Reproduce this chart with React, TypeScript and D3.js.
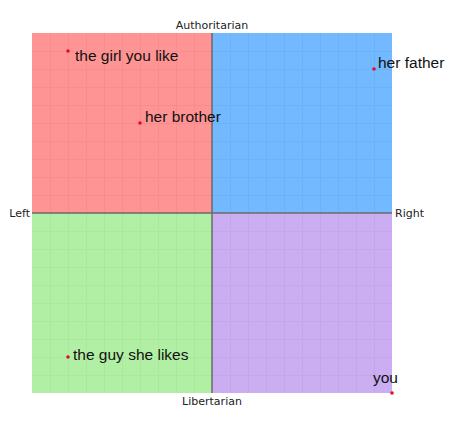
import { useEffect, useRef } from 'react';
import * as d3 from 'd3';

// compass coordinates, -10..10 on both axes
const NAMES = ['the girl you like', 'her father', 'her brother', 'the guy she likes', 'you'];
const ECON = [-8, 9, -4, -8, 10];
const SOCIAL = [9, 8, 5, -8, -10];

// label nudges in pixels (layout only)
const LABEL_DX = [7, 4, 5, 5, 6];
const LABEL_DY = [10, -1, -1, 3, -10];

const QUADRANTS = [
  { x0: -10, x1: 0, y0: 0, y1: 10, fill: '#ff9494', grid: '#f08585' },
  { x0: 0, x1: 10, y0: 0, y1: 10, fill: '#72b9ff', grid: '#66aaf0' },
  { x0: -10, x1: 0, y0: -10, y1: 0, fill: '#b1efa5', grid: '#a2e096' },
  { x0: 0, x1: 10, y0: -10, y1: 0, fill: '#cbaef1', grid: '#bd9fe3' },
];

export default function App() {
  const svgRef = useRef<SVGSVGElement>(null);

  useEffect(() => {
    if (!svgRef.current) return;
    const svg = d3.select(svgRef.current);
    svg.selectAll('*').remove();

    const x = d3.scaleLinear().domain([-10, 10]).range([32, 392]);
    const y = d3.scaleLinear().domain([-10, 10]).range([393, 33]);

    // quadrant backgrounds
    svg.selectAll('rect.quad')
      .data(QUADRANTS)
      .join('rect')
      .attr('class', 'quad')
      .attr('x', (d) => x(d.x0))
      .attr('y', (d) => y(d.y1))
      .attr('width', (d) => x(d.x1) - x(d.x0))
      .attr('height', (d) => y(d.y0) - y(d.y1))
      .attr('fill', (d) => d.fill);

    // faint grid inside each quadrant
    const ticks = d3.range(-10, 11);
    QUADRANTS.forEach((q) => {
      const g = svg.append('g').attr('stroke', q.grid).attr('stroke-width', 1).attr('opacity', 0.45);
      ticks.filter((t) => t > q.x0 && t < q.x1).forEach((t) => {
        g.append('line')
          .attr('x1', x(t) + 0.5).attr('x2', x(t) + 0.5)
          .attr('y1', y(q.y1)).attr('y2', y(q.y0));
      });
      ticks.filter((t) => t > q.y0 && t < q.y1).forEach((t) => {
        g.append('line')
          .attr('y1', y(t) + 0.5).attr('y2', y(t) + 0.5)
          .attr('x1', x(q.x0)).attr('x2', x(q.x1));
      });
    });

    // main axes
    svg.append('line')
      .attr('x1', x(0)).attr('x2', x(0))
      .attr('y1', y(10)).attr('y2', y(-10))
      .attr('stroke', '#6a6a6a').attr('stroke-width', 1.5);
    svg.append('line')
      .attr('x1', x(-10)).attr('x2', x(10))
      .attr('y1', y(0)).attr('y2', y(0))
      .attr('stroke', '#6a6a6a').attr('stroke-width', 1.5);

    // axis names
    const axisFont = 'DejaVu Sans, sans-serif';
    const axisLabels = [
      { text: 'Authoritarian', px: x(0), py: 29, anchor: 'middle' },
      { text: 'Libertarian', px: x(0), py: 405, anchor: 'middle' },
      { text: 'Left', px: 30, py: 217, anchor: 'end' },
      { text: 'Right', px: 395, py: 217, anchor: 'start' },
    ];
    svg.selectAll('text.axis')
      .data(axisLabels)
      .join('text')
      .attr('class', 'axis')
      .attr('x', (d) => d.px)
      .attr('y', (d) => d.py)
      .attr('text-anchor', (d) => d.anchor)
      .attr('font-family', axisFont)
      .attr('font-size', 11)
      .attr('fill', '#222')
      .text((d) => d.text);

    const people = NAMES.map((name, i) => ({ name, e: ECON[i], s: SOCIAL[i], dx: LABEL_DX[i], dy: LABEL_DY[i] }));

    svg.selectAll('circle.pt')
      .data(people)
      .join('circle')
      .attr('class', 'pt')
      .attr('cx', (d) => x(d.e))
      .attr('cy', (d) => y(d.s))
      .attr('r', 1.8)
      .attr('fill', '#e0102a');

    svg.selectAll('text.name')
      .data(people)
      .join('text')
      .attr('class', 'name')
      .attr('x', (d) => x(d.e) + d.dx)
      .attr('y', (d) => y(d.s) + d.dy)
      .attr('text-anchor', (d) => (d.e === 10 ? 'end' : 'start'))
      .attr('font-family', 'Liberation Sans, Arial, sans-serif')
      .attr('font-size', 15.5)
      .attr('fill', '#111')
      .text((d) => d.name);
  }, []);

  return (
    <svg ref={svgRef} width={454} height={430}
      style={{ position: 'absolute', left: 0, top: 0, background: '#fff' }} />
  );
}
